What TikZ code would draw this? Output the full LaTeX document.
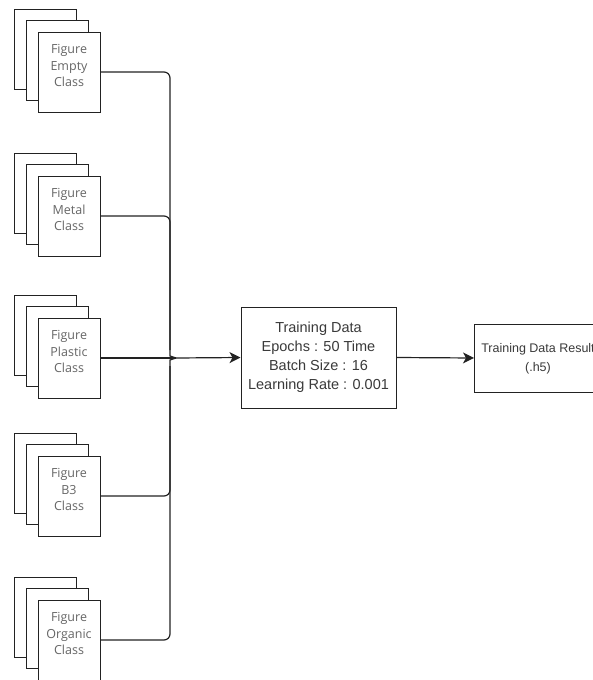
\documentclass[tikz,border=0pt]{standalone}
\usepackage{fontspec}
\setmainfont{Liberation Sans}
\newfontfamily\stackfont{Open Sans}
\usetikzlibrary{arrows.meta}
\definecolor{linec}{HTML}{222222}
\definecolor{stacktext}{HTML}{666666}
\definecolor{maintext}{HTML}{3A3A3A}
\tikzset{
  x=1pt, y=-1pt,
  sheet/.style={draw=linec, line width=1pt, fill=white, minimum width=62pt, minimum height=80pt, inner sep=0pt, anchor=center},
  sheetlabel/.style={font=\stackfont\fontsize{12.5}{16.5}\selectfont, text=stacktext, align=center, inner sep=0pt},
  procbox/.style={draw=linec, line width=1pt, fill=white, inner sep=0pt, align=center, text=maintext},
  conn/.style={draw=linec, line width=1.2pt, rounded corners=6pt},
  arr/.style={conn, -{Stealth[length=11pt, width=11pt, inset=3pt]}},
}
\newcommand\figstack[3]{%
  \node[sheet] (#1b) at (45,#2-23) {};
  \node[sheet] (#1m) at (57,#2-11.5) {};
  \node[sheet] (#1) at (69,#2) {};
  \node[sheetlabel] (#1t) at (69,#2-6.5) {Figure\\#3\\Class};
}
\begin{document}
\begin{tikzpicture}
\useasboundingbox (0,0) rectangle (593,680);
\figstack{empty}{72}{Empty}
\figstack{metal}{216}{Metal}
\figstack{plastic}{358}{Plastic}
\figstack{bthree}{496}{B3}
\figstack{organic}{640}{Organic}

\node[procbox, minimum width=155pt, minimum height=101pt,
      font=\fontsize{14.5}{19}\selectfont] (train) at (318.5,357.5)
  {Training Data\\Epochs : 50 Time\\Batch Size : 16\\Learning Rate : 0.001};
\node[procbox, minimum width=126pt, minimum height=68pt, anchor=west] (result) at (474,358) {};
\node[font=\fontsize{12.5}{19}\selectfont, text=maintext, align=center] (resulttext) at (538,358.5)
  {Training Data Result\\(.h5)};

\coordinate (J) at (176,358);
\coordinate (ju) at (170,350);
\coordinate (jd) at (170,366);

\draw[conn] (empty.east) -| (ju) .. controls (170,356) .. (J);
\draw[conn] (metal.east) -| (ju);
\draw[conn] (plastic.east) -- (J);
\draw[conn] (bthree.east) -| (jd);
\draw[conn] (organic.east) -| (jd) .. controls (170,360) .. (J);
\draw[arr] (J) -- (train.west);
\draw[arr] (train.east) -- (result.west);
\end{tikzpicture}
\end{document}
